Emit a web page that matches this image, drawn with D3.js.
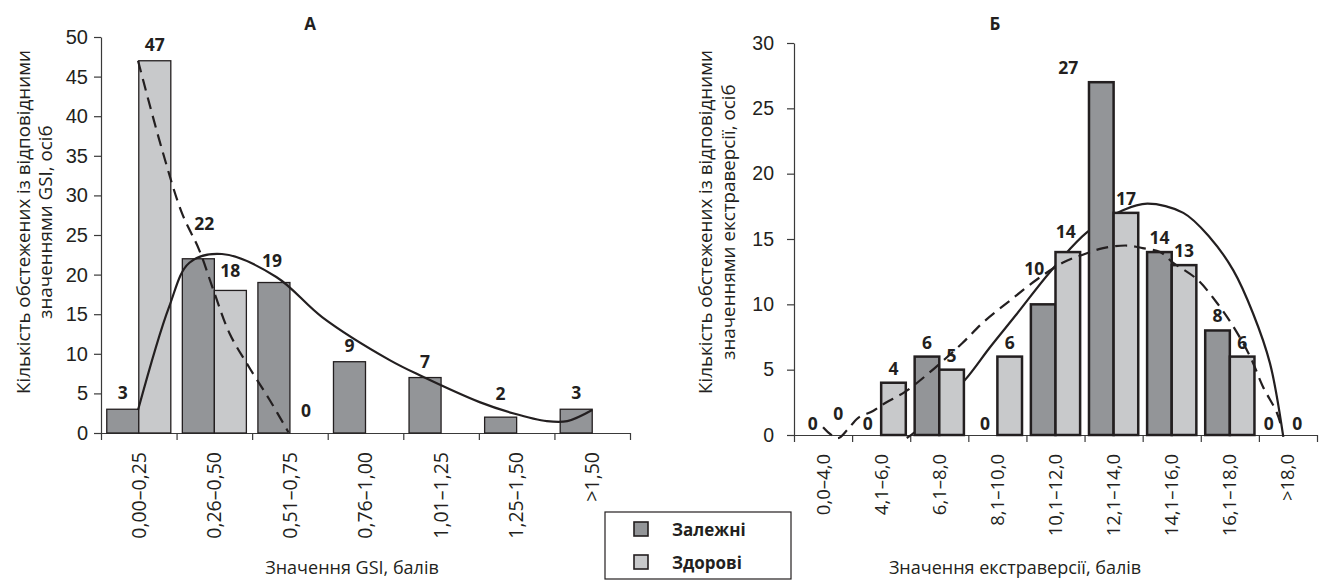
<!DOCTYPE html>
<html>
<head>
<meta charset="utf-8">
<script src="https://cdn.jsdelivr.net/npm/d3@7"></script>
<style>
  body { margin: 0; background: #fff; }
  svg { display: block; font-family: "Open Sans", sans-serif; }
  .axis path, .axis line { stroke: #3a3a3a; stroke-width: 1.2; }
  .axis text { fill: #231f20; }
</style>
</head>
<body>
<svg id="chart" width="1320" height="581"></svg>
<script>
// ---- panel A: GSI ----
const catsA = ['0,00–0,25', '0,26–0,50', '0,51–0,75', '0,76–1,00', '1,01–1,25', '1,25–1,50', '>1,50'];
const depA = [3, 22, 19, 9, 7, 2, 3];
const healthyA = [47, 18, 0, null, null, null, null];
const yTicksA = [0, 5, 10, 15, 20, 25, 30, 35, 40, 45, 50];
// trend curves, [category position, value]
const depFitA = [[0.49, 2.9], [0.9, 15.9], [1.17, 21.5], [1.6, 22.6], [2.32, 19.7], [2.93, 14.6],
  [3.82, 9.2], [4.26, 7.1], [5.01, 3.9], [5.45, 2.5], [5.9, 1.5], [6.17, 1.5], [6.5, 2.9]];
const healthyFitA = [[0.49, 47], [0.81, 35.7], [1.07, 27.8], [1.3, 23.1], [1.5, 17.7], [1.7, 12.6],
  [1.96, 8.3], [2.23, 4.2], [2.48, 0.1]];

// ---- panel B: extraversion ----
const catsB = ['0,0–4,0', '4,1–6,0', '6,1–8,0', '8,1–10,0', '10,1–12,0', '12,1–14,0', '14,1–16,0', '16,1–18,0', '>18,0'];
const depB = [0, 0, 6, 0, 10, 27, 14, 8, 0];
const healthyB = [0, 4, 5, 6, 14, 17, 13, 6, 0];
const yTicksB = [0, 5, 10, 15, 20, 25, 30];
const depFitB = [[1.94, -0.23], [2.08, 0.23], [2.94, 4.2], [3.37, 6.7], [3.84, 9.3], [4.41, 12.5],
  [5.04, 15.5], [5.66, 17.2], [6.08, 17.7], [6.7, 17.0], [7.16, 15.1], [7.56, 12.6], [7.9, 9.3],
  [8.19, 5.5], [8.42, -0.15]];
const healthyFitB = [[0.5, 0.6], [0.75, -0.25], [0.92, 0.4], [1.1, 1.3], [1.36, 1.84], [1.57, 2.45],
  [1.91, 3.3], [2.31, 4.7], [2.89, 7.0], [3.25, 8.6], [3.72, 10.3], [4.18, 11.9], [4.63, 13.2],
  [4.97, 13.8], [5.32, 14.3], [5.73, 14.5], [6.0, 14.3], [6.3, 14.0], [6.52, 13.2], [6.94, 11.9],
  [7.28, 10.1], [7.56, 8.3], [7.85, 6.0], [8.07, 3.7], [8.31, 1.7], [8.4, 0.4]];

const seriesNames = ['Залежні', 'Здорові'];
const DARK = '#939598';
const LIGHT = '#c8c9cb';
const INK = '#231f20';

const svg = d3.select('#chart');

function drawPanel(p) {
  const g = svg.append('g');
  const n = p.cats.length;
  const x = d3.scaleBand().domain(d3.range(n)).range([p.x0, p.x1]);
  const xs = d3.scaleBand().domain([0, 1]).range([0, x.bandwidth()]).paddingOuter(0.18);
  const xu = d3.scaleLinear().domain([0, n]).range([p.x0, p.x1]);
  const y = d3.scaleLinear().domain([0, p.yMax]).range([p.y0, p.y1]);

  // y axis
  const ya = g.append('g').attr('class', 'axis')
    .attr('transform', `translate(${p.x0},0)`)
    .call(d3.axisLeft(y).tickValues(p.yTicks).tickSize(7).tickSizeOuter(0).tickPadding(p.tickPad));
  ya.selectAll('text').style('font-size', p.yFont + 'px');

  // x axis: ticks on category boundaries
  g.append('g').attr('class', 'axis')
    .attr('transform', `translate(0,${p.y0})`)
    .call(d3.axisBottom(xu).tickValues(d3.range(n + 1)).tickSize(7).tickSizeOuter(0).tickFormat(''));

  g.append('g').selectAll('text').data(p.cats).join('text')
    .attr('transform', (d, i) => `translate(${x(i) + x.bandwidth() / 2},${p.y0 + 19}) rotate(-90)`)
    .attr('dy', '0.35em')
    .attr('text-anchor', 'end')
    .style('font-size', p.xFont + 'px')
    .attr('fill', INK)
    .text(d => d);

  const line = d3.line()
    .x(d => xu(d[0]))
    .y(d => y(d[1]))
    .curve(d3.curveCatmullRom.alpha(0.5));

  const drawSolid = () => g.append('path')
    .attr('d', line(p.depFit))
    .attr('fill', 'none').attr('stroke', INK).attr('stroke-width', 2.2);
  const drawDashed = () => g.append('path')
    .attr('d', line(p.healthyFit))
    .attr('fill', 'none').attr('stroke', INK).attr('stroke-width', 2.2)
    .attr('stroke-dasharray', '12,7');

  if (p.solidBehind) drawSolid();

  const bars = [];
  [p.dep, p.healthy].forEach((vals, s) => {
    vals.forEach((v, i) => { if (v != null) bars.push({ s, i, v }); });
  });

  g.append('g').selectAll('rect').data(bars.filter(b => b.v > 0)).join('rect')
    .attr('x', d => x(d.i) + xs(d.s))
    .attr('y', d => y(d.v))
    .attr('width', xs.bandwidth())
    .attr('height', d => p.y0 - y(d.v))
    .attr('fill', d => d.s === 0 ? DARK : LIGHT)
    .attr('stroke', INK)
    .attr('stroke-width', p.barStroke);

  if (!p.solidBehind) drawSolid();
  drawDashed();

  const nud = d => p.nudge[d.s + ':' + d.i] || [0, 0];
  g.append('g').selectAll('text').data(bars).join('text')
    .attr('x', d => x(d.i) + xs(d.s) + xs.bandwidth() / 2 + nud(d)[0])
    .attr('y', d => y(d.v) - p.labelGap + nud(d)[1])
    .attr('text-anchor', 'middle')
    .style('font-size', '17.5px')
    .style('font-weight', 700)
    .attr('fill', INK)
    .text(d => d.v);

  g.append('text')
    .attr('x', p.titleX).attr('y', 30)
    .attr('text-anchor', 'middle')
    .style('font-size', '17px').style('font-weight', 700)
    .attr('fill', INK)
    .text(p.title);

  p.yTitle.forEach((t, k) => {
    g.append('text')
      .attr('transform', `translate(${p.yTitleX[k]},${p.yTitleY}) rotate(-90)`)
      .attr('text-anchor', 'middle')
      .style('font-size', '18.8px')
      .attr('fill', INK)
      .text(t);
  });

  g.append('text')
    .attr('x', p.xTitleX).attr('y', 574)
    .attr('text-anchor', 'middle')
    .style('font-size', '18px')
    .attr('fill', INK)
    .text(p.xTitle);
}

drawPanel({
  cats: catsA, dep: depA, healthy: healthyA, depFit: depFitA, healthyFit: healthyFitA,
  yTicks: yTicksA, yMax: 50,
  x0: 101, x1: 630, y0: 433, y1: 37,
  tickPad: 6, yFont: 20, xFont: 19.5, barStroke: 1.3, labelGap: 10,
  solidBehind: false,
  nudge: { '0:1': [6, -19], '1:2': [0, -6], '0:5': [0, -7], '1:1': [0, -3], '0:2': [-2, -6] },
  title: 'А', titleX: 310,
  yTitle: ['Кількість обстежених із відповідними', 'значеннями GSI, осіб'],
  yTitleX: [30, 52], yTitleY: 222,
  xTitle: 'Значення GSI, балів', xTitleX: 352
});

drawPanel({
  cats: catsB, dep: depB, healthy: healthyB, depFit: depFitB, healthyFit: healthyFitB,
  yTicks: yTicksB, yMax: 30,
  x0: 794, x1: 1317, y0: 435, y1: 43,
  tickPad: 13, yFont: 19.5, xFont: 18.5, barStroke: 2.5, labelGap: 8,
  solidBehind: true,
  nudge: { '0:4': [-9, -21], '0:5': [-33, 0], '1:0': [3, -7], '0:0': [2, 3], '0:1': [-1, 3],
    '0:3': [0, 3], '0:8': [-7, 3], '1:8': [-3, 3], '1:4': [-2, -6] },
  title: 'Б', titleX: 995,
  yTitle: ['Кількість обстежених із відповідними', 'значеннями екстраверсії, осіб'],
  yTitleX: [712, 735], yTitleY: 222,
  xTitle: 'Значення екстраверсії, балів', xTitleX: 1015
});

// legend
const lg = svg.append('g');
lg.append('rect').attr('x', 605).attr('y', 512).attr('width', 186).attr('height', 67)
  .attr('fill', '#fff').attr('stroke', INK).attr('stroke-width', 1.2);
lg.selectAll('g.item').data(seriesNames).join('g')
  .attr('class', 'item')
  .attr('transform', (d, i) => `translate(634,${522 + i * 33})`)
  .each(function (d, i) {
    const it = d3.select(this);
    it.append('rect').attr('width', 14).attr('height', 14)
      .attr('fill', i === 0 ? DARK : LIGHT).attr('stroke', INK).attr('stroke-width', 1.6);
    it.append('text').attr('x', 38).attr('y', 14)
      .style('font-size', '17px').style('font-weight', 700).attr('fill', INK)
      .text(d);
  });
</script>
</body>
</html>
